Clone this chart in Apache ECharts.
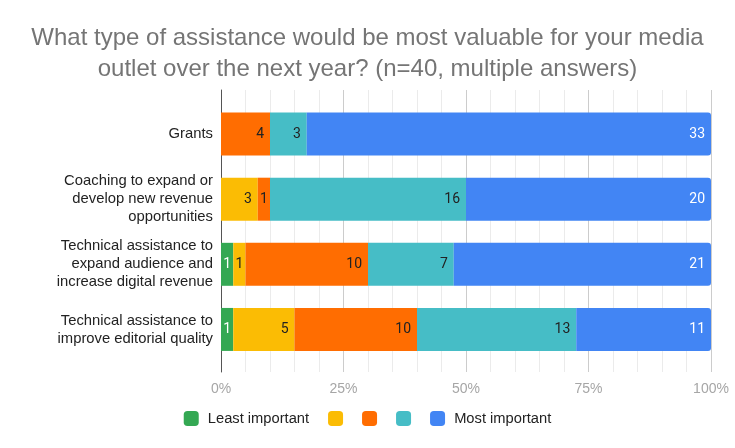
<!DOCTYPE html>
<html><head><meta charset="utf-8">
<script src="https://cdn.jsdelivr.net/npm/echarts@6/dist/echarts.min.js"></script>
<style>html,body{margin:0;padding:0;background:#fff}#c{width:735px;height:448px}</style>
</head><body><div id="c"></div>
<script>
var titleText = 'What type of assistance would be most valuable for your media\noutlet over the next year? (n=40, multiple answers)';
var categories = ['Grants', 'Coaching to expand or\ndevelop new revenue\nopportunities', 'Technical assistance to\nexpand audience and\nincrease digital revenue', 'Technical assistance to\nimprove editorial quality'];
var seriesNames = ['Least important', 'Level 2', 'Level 3', 'Level 4', 'Most important'];
var legendLabels = ['Least important', '', '', '', 'Most important'];
var leastImportant = [0, 0, 1, 1];
var level2 = [0, 3, 1, 5];
var level3 = [4, 1, 10, 10];
var level4 = [3, 16, 7, 13];
var mostImportant = [33, 20, 21, 11];
var colors = ['#34a853', '#fbbc04', '#ff6d01', '#46bdc6', '#4285f4'];
var labelColors = ['#ffffff', '#222222', '#222222', '#222222', '#ffffff'];
var tickValues = [0, 25, 50, 75, 100];

var allSeries = [leastImportant, level2, level3, level4, mostImportant];
var totals = categories.map(function (c, i) {
  return allSeries.reduce(function (s, arr) { return s + arr[i]; }, 0);
});

var series = allSeries.map(function (arr, k) {
  return {
    name: seriesNames[k],
    type: 'bar',
    stack: 'total',
    xAxisIndex: 0,
    yAxisIndex: 0,
    barCategoryGap: '34%',
    itemStyle: { color: colors[k], borderRadius: k === 4 ? [0, 3, 3, 0] : 0 },
    label: {
      show: true,
      position: 'insideRight',
      distance: 6,
      color: labelColors[k],
      fontFamily: 'Roboto',
      fontSize: 14,
      formatter: function (p) { return p.data.count > 0 ? String(p.data.count) : ''; }
    },
    data: arr.map(function (v, i) {
      var pct = v / totals[i] * 100;
      var item = { value: pct, count: v };
      if (pct < 4) { item.label = { position: 'inside' }; }
      return item;
    })
  };
});

var chart = echarts.init(document.getElementById('c'));
chart.setOption({
  animation: false,
  color: colors,
  title: {
    text: titleText,
    left: 'center',
    top: 18,
    textStyle: { fontFamily: 'Liberation Sans, Arial', fontSize: 24, fontWeight: 'normal', color: '#757575', lineHeight: 31 }
  },
  legend: {
    top: 406,
    left: 'center',
    itemWidth: 15,
    itemHeight: 15,
    itemGap: 19,
    icon: 'roundRect',
    data: seriesNames,
    formatter: function (name) {
      var t = legendLabels[seriesNames.indexOf(name)];
      return t ? ' ' + t : '';
    },
    textStyle: { fontFamily: 'Liberation Sans, Arial', fontSize: 14.7, color: '#222' }
  },
  grid: [
    { left: 221, right: 24, top: 101.5, bottom: 86, containLabel: false },
    { left: 221, right: 24, top: 90, bottom: 76, containLabel: false }
  ],
  xAxis: [
    { type: 'value', gridIndex: 0, min: 0, max: 100, show: false },
    { type: 'value', gridIndex: 1, min: 0, max: 100, interval: 5, position: 'bottom',
      axisLine: { show: false }, axisTick: { show: false }, axisLabel: { show: false },
      splitLine: { show: true, lineStyle: { color: '#ebebeb', width: 1 } } },
    { type: 'value', gridIndex: 1, min: 0, max: 100, interval: 25, position: 'bottom',
      axisLine: { show: false }, axisTick: { show: false },
      axisLabel: { show: true, margin: 10, color: '#a6a6a6', fontFamily: 'Liberation Sans, Arial', fontSize: 14,
        formatter: function (v) { return tickValues.indexOf(v) >= 0 ? v + '%' : ''; } },
      splitLine: { show: true, lineStyle: { color: '#cccccc', width: 1 } } }
  ],
  yAxis: [
    { type: 'category', gridIndex: 0, data: categories, inverse: true,
      axisLine: { show: false }, axisTick: { show: false },
      axisLabel: { margin: 8, color: '#222', fontFamily: 'Liberation Sans, Arial', fontSize: 14.8, lineHeight: 18, align: 'right' } },
    { type: 'value', gridIndex: 1, min: 0, max: 1,
      axisLine: { show: true, onZero: false, lineStyle: { color: '#555', width: 1 } },
      axisTick: { show: false }, axisLabel: { show: false }, splitLine: { show: false } }
  ],
  series: series
});
</script>
</body></html>
